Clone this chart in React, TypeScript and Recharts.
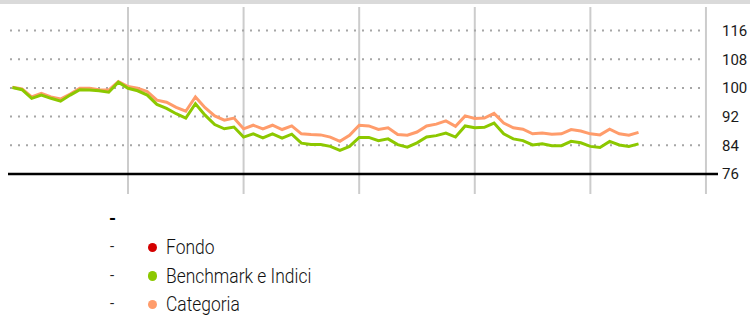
import { LineChart, Line, XAxis, YAxis, ReferenceLine } from 'recharts';

// monthly values, index = month from start
const benchmark = [
  100.1, 99.5, 97.1, 98.0, 97.1, 96.3, 98.0, 99.5, 99.4, 99.2, 98.8, 101.6,
  99.9, 99.2, 98.0, 95.4, 94.3, 92.8, 91.6, 95.6, 92.4, 89.8, 88.6, 89.1,
  86.3, 87.2, 86.1, 87.2, 86.0, 87.1, 84.6, 84.2, 84.2, 83.7, 82.6, 83.7,
  86.2, 86.2, 85.3, 85.8, 84.2, 83.5, 84.7, 86.3, 86.7, 87.4, 86.3, 89.4,
  88.9, 89.0, 90.2, 87.2, 85.8, 85.3, 84.1, 84.4, 83.9, 83.9, 85.1, 84.7,
  83.7, 83.4, 85.1, 84.1, 83.7, 84.4,
];
const categoria = [
  100.2, 99.7, 97.5, 98.5, 97.5, 96.9, 98.3, 99.9, 99.9, 99.5, 99.4, 101.8,
  100.4, 99.9, 99.0, 96.6, 96.0, 94.6, 93.5, 97.5, 94.5, 92.2, 91.0, 91.6,
  88.6, 89.6, 88.6, 89.6, 88.4, 89.4, 87.2, 87.0, 86.9, 86.3, 85.1, 86.8,
  89.6, 89.4, 88.4, 88.9, 87.0, 86.8, 87.7, 89.4, 89.9, 90.8, 89.3, 92.2,
  91.5, 91.6, 92.9, 90.2, 88.9, 88.5, 87.2, 87.4, 87.1, 87.2, 88.4, 88.0,
  87.2, 86.9, 88.5, 87.2, 86.8, 87.6,
];

const yTicks = [76, 84, 92, 100, 108, 116];
const dottedLevels = [84, 92, 100, 108, 116];
const yearTicks = [12, 24, 36, 48, 60, 72];

const legendItems = [
  { name: 'Fondo', color: '#d40000' },
  { name: 'Benchmark e Indici', color: '#8cc800' },
  { name: 'Categoria', color: '#ff9c6b' },
];

const data = benchmark.map((b, i) => ({ m: i, benchmark: b, categoria: categoria[i] }));

const X_DOMAIN: [number, number] = [-0.457, 73.25];
const GRID_FROM = -0.25;
const GRID_TO = 71.48;
const labelFont = 'Roboto, "Liberation Sans", Arial, sans-serif';

function ChartLegend() {
  return (
    <div style={{ position: 'absolute', left: 0, top: 0, fontFamily: labelFont }}>
      <div style={{ position: 'absolute', left: 109, top: 209, fontSize: 18, fontWeight: 700, lineHeight: '20px' }}>-</div>
      {legendItems.map((item, i) => (
        <div key={item.name} style={{ position: 'absolute', top: 233 + i * 28.7, left: 0, height: 28, width: 400 }}>
          <span style={{ position: 'absolute', left: 110, top: 3, fontSize: 15, lineHeight: '20px', color: '#222' }}>-</span>
          <span style={{ position: 'absolute', left: 147.5, top: 9.5, width: 9.5, height: 9.5, borderRadius: '50%', background: item.color }} />
          <span
            style={{
              position: 'absolute',
              left: 166,
              top: 0,
              fontSize: 21,
              fontWeight: 300,
              lineHeight: '28px',
              color: '#111',
              whiteSpace: 'nowrap',
              transform: 'scaleX(0.83)',
              transformOrigin: 'left center',
            }}
          >
            {item.name}
          </span>
        </div>
      ))}
    </div>
  );
}

export default function App() {
  return (
    <div style={{ position: 'absolute', left: 0, top: 0, width: 750, height: 316, background: '#fff', overflow: 'hidden' }}>
      <div style={{ position: 'absolute', left: 0, top: 0, width: 750, height: 4, background: '#dadada' }} />
      <div style={{ position: 'absolute', left: 0, top: 0 }}>
        <LineChart width={750} height={200} data={data} margin={{ top: 7, right: 0, bottom: 6, left: 8 }}>
          <XAxis dataKey="m" type="number" domain={X_DOMAIN} hide allowDataOverflow />
          <YAxis
            orientation="right"
            width={32}
            domain={[70.43, 122.55]}
            ticks={yTicks}
            allowDataOverflow
            axisLine={false}
            tickLine={false}
            tickSize={0}
            tickMargin={4}
            tick={{ fill: '#1a1a1a', fontSize: 15, fontFamily: labelFont, textAnchor: 'start' }}
          />
          {yearTicks.map((t) => (
            <ReferenceLine key={`v-${t}`} x={t} stroke="#cccccc" strokeWidth={2} />
          ))}
          {dottedLevels.map((v) => (
            <ReferenceLine
              key={`h-${v}`}
              segment={[{ x: GRID_FROM, y: v }, { x: GRID_TO, y: v }]}
              stroke="#a6a6a6"
              strokeWidth={2}
              strokeDasharray="2 6"
            />
          ))}
          <ReferenceLine y={76} stroke="#000" strokeWidth={2.5} />
          <Line
            dataKey="categoria"
            stroke="#ff9c6b"
            strokeWidth={3}
            dot={false}
            type="linear"
            isAnimationActive={false}
          />
          <Line
            dataKey="benchmark"
            stroke="#8cc800"
            strokeWidth={3}
            dot={false}
            type="linear"
            isAnimationActive={false}
          />
        </LineChart>
      </div>
      <ChartLegend />
    </div>
  );
}
